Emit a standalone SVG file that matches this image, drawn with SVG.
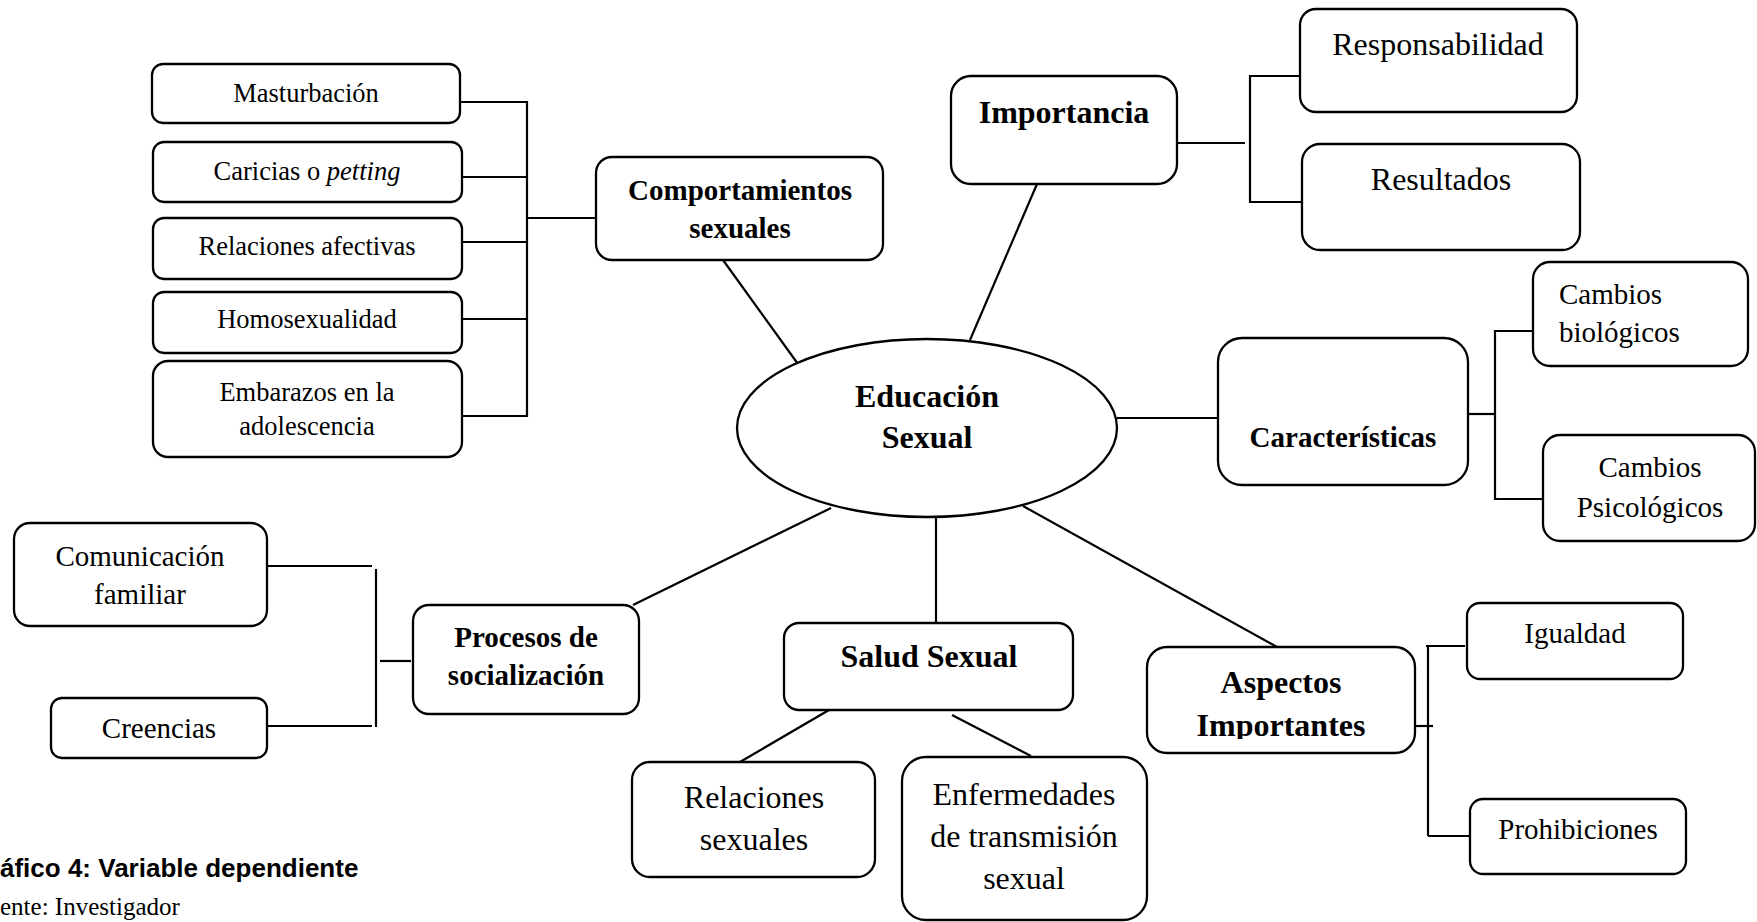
<svg xmlns="http://www.w3.org/2000/svg" width="1757" height="922" viewBox="0 0 1757 922">
<style>
.box{fill:#fff;stroke:#000;stroke-width:2.3}
.ln{fill:none;stroke:#000;stroke-width:2.2}
text{font-family:"Liberation Serif","Times New Roman",serif;fill:#000;text-anchor:middle}
.s{font-size:26.5px}
.m{font-size:29px}
.l{font-size:32px}
.b{font-weight:bold}
.cap{font-family:"Liberation Sans",Arial,sans-serif;font-weight:bold;font-size:26px;text-anchor:start}
.src{font-size:25px;text-anchor:start}
</style>
<defs>
<clipPath id="clipAsp"><rect x="1140" y="640" width="290" height="99"/></clipPath>
</defs>
<rect width="1757" height="922" fill="#fff"/>

<g id="connectors">
<line class="ln" x1="460" y1="102" x2="527" y2="102"/>
<line class="ln" x1="462" y1="177" x2="527" y2="177"/>
<line class="ln" x1="462" y1="242" x2="527" y2="242"/>
<line class="ln" x1="462" y1="319" x2="527" y2="319"/>
<line class="ln" x1="462" y1="416" x2="527" y2="416"/>
<line class="ln" x1="527" y1="101" x2="527" y2="417"/>
<line class="ln" x1="527" y1="218" x2="598" y2="218"/>
<line class="ln" x1="723" y1="260" x2="798" y2="364"/>
<line class="ln" x1="1037" y1="184" x2="970" y2="340"/>
<line class="ln" x1="1117" y1="418" x2="1218" y2="418"/>
<line class="ln" x1="1023" y1="506" x2="1277" y2="647"/>
<line class="ln" x1="936" y1="518" x2="936" y2="623"/>
<line class="ln" x1="633" y1="605" x2="831" y2="508"/>
<line class="ln" x1="1177" y1="143" x2="1245" y2="143"/>
<polyline class="ln" points="1300,76 1250,76 1250,202 1302,202"/>
<line class="ln" x1="1468" y1="414" x2="1495" y2="414"/>
<polyline class="ln" points="1533,331 1495,331 1495,499 1543,499"/>
<line class="ln" x1="267" y1="566" x2="372" y2="566"/>
<line class="ln" x1="267" y1="726" x2="372" y2="726"/>
<line class="ln" x1="376" y1="569" x2="376" y2="727"/>
<line class="ln" x1="380" y1="661" x2="411" y2="661"/>
<line class="ln" x1="829" y1="710" x2="740" y2="762"/>
<line class="ln" x1="952" y1="715" x2="1031" y2="756"/>
<line class="ln" x1="1415" y1="726" x2="1433" y2="726"/>
<line class="ln" x1="1428" y1="646" x2="1428" y2="836"/>
<line class="ln" x1="1426" y1="646" x2="1465" y2="646"/>
<line class="ln" x1="1428" y1="836" x2="1470" y2="836"/>
</g>

<g id="n-masturbacion"><rect class="box" x="152" y="64" width="308" height="59" rx="11"/><text class="s" x="306" y="102">Masturbación</text></g>
<g id="n-caricias"><rect class="box" x="153" y="142" width="309" height="60" rx="11"/><text class="s" x="307" y="180">Caricias o <tspan font-style="italic">petting</tspan></text></g>
<g id="n-relaciones-afectivas"><rect class="box" x="153" y="218" width="309" height="61" rx="11"/><text class="s" x="307" y="255">Relaciones afectivas</text></g>
<g id="n-homosexualidad"><rect class="box" x="153" y="292" width="309" height="61" rx="11"/><text class="s" x="307" y="328">Homosexualidad</text></g>
<g id="n-embarazos"><rect class="box" x="153" y="361" width="309" height="96" rx="15"/><text class="s" x="307" y="401">Embarazos en la</text><text class="s" x="307" y="435">adolescencia</text></g>

<g id="n-comportamientos"><rect class="box" x="596" y="157" width="287" height="103" rx="16"/><text class="m b" x="740" y="200">Comportamientos</text><text class="m b" x="740" y="238">sexuales</text></g>

<g id="n-educacion"><ellipse class="box" cx="927" cy="428" rx="190" ry="89"/><text class="l b" x="927" y="407">Educación</text><text class="l b" x="927" y="448">Sexual</text></g>

<g id="n-importancia"><rect class="box" x="951" y="76" width="226" height="108" rx="20"/><text class="l b" x="1064" y="123">Importancia</text></g>
<g id="n-responsabilidad"><rect class="box" x="1300" y="9" width="277" height="103" rx="16"/><text class="l" x="1438" y="55">Responsabilidad</text></g>
<g id="n-resultados"><rect class="box" x="1302" y="144" width="278" height="106" rx="18"/><text class="l" x="1441" y="190">Resultados</text></g>

<g id="n-caracteristicas"><rect class="box" x="1218" y="338" width="250" height="147" rx="24"/><text class="m b" x="1343" y="447">Características</text></g>
<g id="n-cambios-biologicos"><rect class="box" x="1533" y="262" width="215" height="104" rx="17"/><text class="m" x="1559" y="304" style="text-anchor:start">Cambios</text><text class="m" x="1559" y="342" style="text-anchor:start">biológicos</text></g>
<g id="n-cambios-psicologicos"><rect class="box" x="1543" y="435" width="212" height="106" rx="17"/><text class="m" x="1650" y="477">Cambios</text><text class="m" x="1650" y="517">Psicológicos</text></g>

<g id="n-comunicacion"><rect class="box" x="14" y="523" width="253" height="103" rx="16"/><text class="m" x="140" y="566">Comunicación</text><text class="m" x="140" y="604">familiar</text></g>
<g id="n-creencias"><rect class="box" x="51" y="698" width="216" height="60" rx="11"/><text class="m" x="159" y="738">Creencias</text></g>
<g id="n-procesos"><rect class="box" x="413" y="605" width="226" height="109" rx="16"/><text class="m b" x="526" y="647">Procesos de</text><text class="m b" x="526" y="685">socialización</text></g>

<g id="n-salud"><rect class="box" x="784" y="623" width="289" height="87" rx="15"/><text class="l b" x="929" y="667">Salud Sexual</text></g>
<g id="n-relaciones-sexuales"><rect class="box" x="632" y="762" width="243" height="115" rx="18"/><text class="l" x="754" y="808">Relaciones</text><text class="l" x="754" y="850">sexuales</text></g>
<g id="n-enfermedades"><rect class="box" x="902" y="757" width="245" height="163" rx="24"/><text class="l" x="1024" y="805">Enfermedades</text><text class="l" x="1024" y="847">de transmisión</text><text class="l" x="1024" y="889">sexual</text></g>

<g id="n-aspectos"><rect class="box" x="1147" y="647" width="268" height="106" rx="20"/><text class="l b" x="1281" y="693">Aspectos</text><text class="l b" x="1281" y="736" clip-path="url(#clipAsp)">Importantes</text></g>
<g id="n-igualdad"><rect class="box" x="1467" y="603" width="216" height="76" rx="13"/><text class="m" x="1575" y="643">Igualdad</text></g>
<g id="n-prohibiciones"><rect class="box" x="1470" y="799" width="216" height="75" rx="13"/><text class="m" x="1578" y="839">Prohibiciones</text></g>

<g id="caption">
<text class="cap" x="0" y="877">áfico 4: Variable dependiente</text>
<text class="src" x="0" y="915">ente: Investigador</text>
</g>
</svg>
